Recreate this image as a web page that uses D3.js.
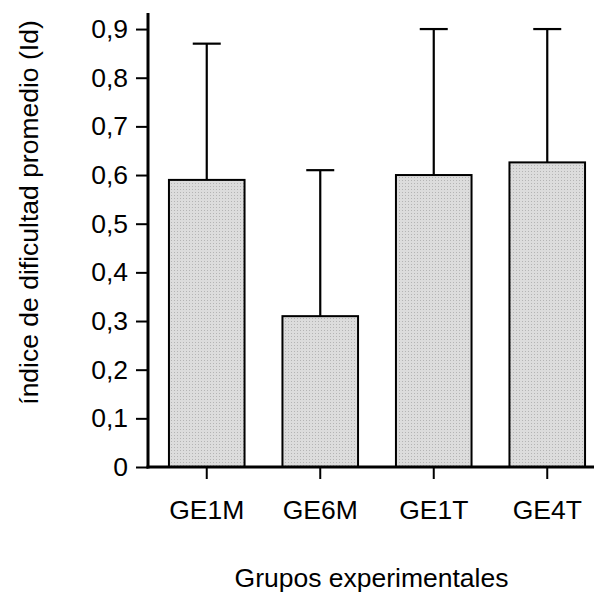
<!DOCTYPE html>
<html>
<head>
<meta charset="utf-8">
<script src="https://cdn.jsdelivr.net/npm/d3@7"></script>
<style>
  body { margin: 0; background: #fff; }
  svg { display: block; font-family: "Liberation Sans", Arial, sans-serif; }
</style>
</head>
<body>
<svg width="594" height="597"></svg>
<script>
const grupos = ["GE1M", "GE6M", "GE1T", "GE4T"];
const medias = [0.59, 0.31, 0.60, 0.626];
const errSup = [0.87, 0.61, 0.90, 0.90];
const yTicks = [0, 0.1, 0.2, 0.3, 0.4, 0.5, 0.6, 0.7, 0.8, 0.9];

const fs = 26.5;
const svg = d3.select("svg");

// punto decimal como coma
const loc = d3.formatLocale({decimal: ",", thousands: ".", grouping: [3], currency: ["", ""]});
const fmt = loc.format(".1~f");

const y = d3.scaleLinear().domain([0, 0.933]).range([467, 13]);
const x = d3.scaleBand().domain(grupos).range([150, 604])
    .paddingInner(0.334).paddingOuter(0.167);

// relleno punteado gris
const defs = svg.append("defs");
const pat = defs.append("pattern")
    .attr("id", "punteado")
    .attr("width", 3).attr("height", 3)
    .attr("patternUnits", "userSpaceOnUse");
pat.append("rect").attr("width", 3).attr("height", 3).attr("fill", "#dcdcdc");
pat.append("rect").attr("width", 1).attr("height", 1).attr("fill", "#b4b4b4");

const data = grupos.map((g, i) => ({g: g, m: medias[i], e: errSup[i]}));

// barras de error (solo hacia arriba)
const err = svg.append("g").attr("stroke", "black").attr("stroke-width", 2.2);
err.selectAll("line.v").data(data).join("line")
    .attr("x1", d => x(d.g) + x.bandwidth() / 2)
    .attr("x2", d => x(d.g) + x.bandwidth() / 2)
    .attr("y1", d => y(d.m))
    .attr("y2", d => y(d.e));
err.selectAll("line.cap").data(data).join("line")
    .attr("x1", d => x(d.g) + x.bandwidth() / 2 - 14)
    .attr("x2", d => x(d.g) + x.bandwidth() / 2 + 14)
    .attr("y1", d => y(d.e))
    .attr("y2", d => y(d.e));

svg.append("g").selectAll("rect").data(data).join("rect")
    .attr("x", d => x(d.g))
    .attr("y", d => y(d.m))
    .attr("width", x.bandwidth())
    .attr("height", d => y(0) - y(d.m))
    .attr("fill", "url(#punteado)")
    .attr("stroke", "black")
    .attr("stroke-width", 2);

// eje Y
const yAxis = svg.append("g")
    .attr("transform", "translate(148,0)")
    .call(d3.axisLeft(y).tickValues(yTicks).tickFormat(fmt).tickSize(12).tickPadding(8));
yAxis.select(".domain").remove();
yAxis.selectAll(".tick line").attr("stroke-width", 2);
yAxis.selectAll("text").attr("font-size", fs).attr("fill", "black")
    .attr("font-family", "Liberation Sans, Arial, sans-serif");
svg.append("line")
    .attr("x1", 148).attr("x2", 148)
    .attr("y1", y(0.933)).attr("y2", y(0) + 1.5)
    .attr("stroke", "black").attr("stroke-width", 3);

// eje X
const xAxis = svg.append("g")
    .attr("transform", "translate(0,467)")
    .call(d3.axisBottom(x).tickSize(12).tickPadding(21));
xAxis.select(".domain").remove();
xAxis.selectAll(".tick line").attr("stroke-width", 2);
xAxis.selectAll("text").attr("font-size", fs).attr("fill", "black")
    .attr("font-family", "Liberation Sans, Arial, sans-serif");
svg.append("line")
    .attr("x1", 146.5).attr("x2", 594)
    .attr("y1", 467).attr("y2", 467)
    .attr("stroke", "black").attr("stroke-width", 3);

// títulos
svg.append("text")
    .attr("x", 371.5).attr("y", 587)
    .attr("text-anchor", "middle")
    .attr("font-size", fs)
    .text("Grupos experimentales");
svg.append("text")
    .attr("transform", "translate(38,212.5) rotate(-90)")
    .attr("text-anchor", "middle")
    .attr("font-size", fs)
    .text("índice de dificultad promedio (Id)");
</script>
</body>
</html>
